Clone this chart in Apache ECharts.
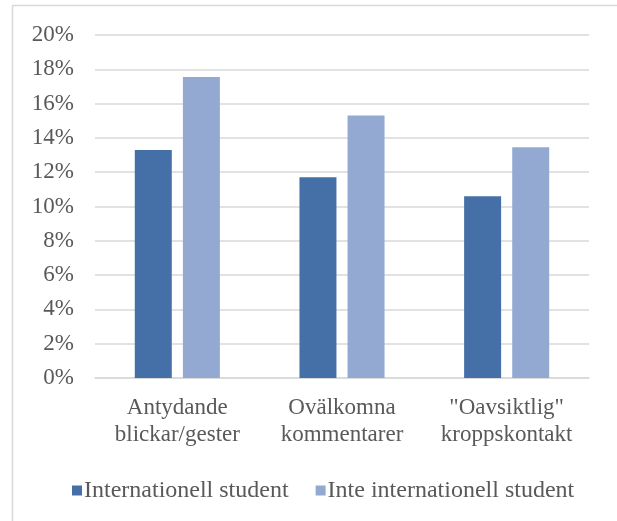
<!DOCTYPE html>
<html>
<head>
<meta charset="utf-8">
<script src="https://cdn.jsdelivr.net/npm/echarts@6/dist/echarts.min.js"></script>
<style>
html,body{margin:0;padding:0;background:#fff;}
#c{width:617px;height:521px;}
</style>
</head>
<body>
<div id="c"></div>
<script>
const categories = ['Antydande\nblickar/gester', 'Ovälkomna\nkommentarer', '"Oavsiktlig"\nkroppskontakt'];
const seriesNames = ['Internationell student', 'Inte internationell student'];
const internationell = [13.3, 11.7, 10.6];
const inteInternationell = [17.55, 15.3, 13.45];
const yTicks = { min: 0, max: 20, interval: 2 };

const font = '"Liberation Serif", "Times New Roman", serif';
const chart = echarts.init(document.getElementById('c'));
chart.setOption({
  animation: false,
  backgroundColor: '#fff',
  graphic: [{
    type: 'rect',
    shape: { x: 12.5, y: 5.5, width: 700, height: 600 },
    style: { fill: 'none', stroke: '#d9d9d9', lineWidth: 1.5 },
    silent: true
  }],
  grid: { left: 95, right: 28, top: 35, bottom: 143, containLabel: false },
  legend: {
    left: 67, top: 473,
    itemWidth: 10, itemHeight: 10, itemGap: 27,
    icon: 'rect',
    textStyle: { fontFamily: font, fontSize: 24, color: '#595959', lineHeight: 25, padding: [0, 0, 0, -3] },
    data: seriesNames
  },
  xAxis: {
    type: 'category',
    data: categories,
    axisLine: { lineStyle: { color: '#d9d9d9', width: 1.5 } },
    axisTick: { show: false },
    axisLabel: { fontFamily: font, fontSize: 23, color: '#595959', lineHeight: 27, margin: 16, interval: 0 }
  },
  yAxis: {
    type: 'value',
    min: yTicks.min, max: yTicks.max, interval: yTicks.interval,
    axisLine: { show: false },
    axisTick: { show: false },
    splitLine: { lineStyle: { color: '#d9d9d9', width: 1.5 } },
    axisLabel: { fontFamily: font, fontSize: 23, color: '#595959', margin: 21, formatter: '{value}%' }
  },
  series: [
    { name: seriesNames[0], type: 'bar', data: internationell, barWidth: 37, barGap: '30%',
      itemStyle: { color: '#4570A7' } },
    { name: seriesNames[1], type: 'bar', data: inteInternationell, barWidth: 37, barGap: '30%',
      itemStyle: { color: '#94A9D1' } }
  ]
});
</script>
</body>
</html>
